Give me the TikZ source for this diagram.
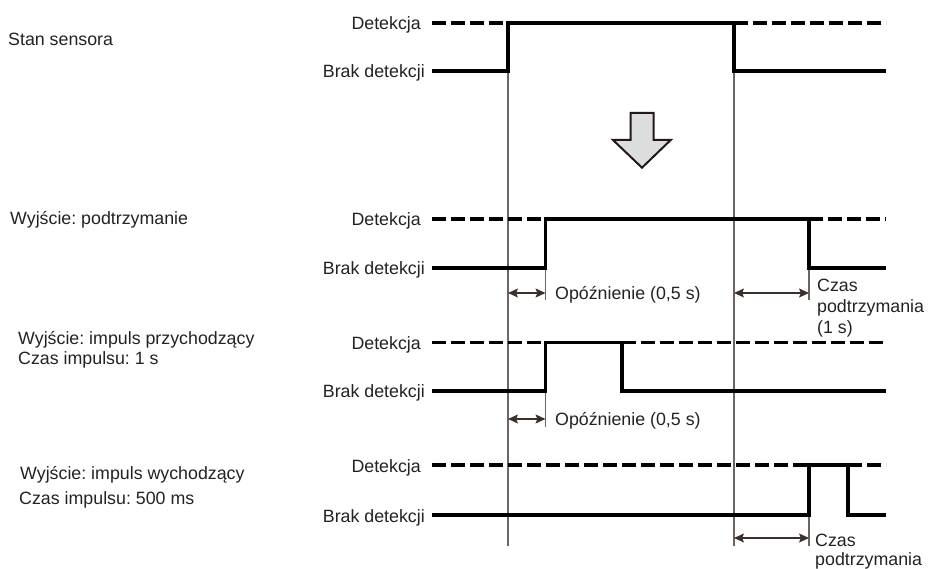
\documentclass[tikz,border=0pt]{standalone}
\usepackage{fontspec}
\setmainfont{Liberation Sans}
\frenchspacing
\usetikzlibrary{arrows.meta}
\definecolor{txt}{HTML}{222222}
\definecolor{guidec}{HTML}{6D6560}
\definecolor{dimc}{HTML}{3B2F2B}
\definecolor{arrfill}{HTML}{DCDDDD}
\definecolor{arrline}{HTML}{231815}
\tikzset{
  sig/.style={line width=3.6pt, draw=black, line cap=butt, line join=miter},
  dsh/.style={sig, dash pattern=on 14pt off 5pt},
  guide/.style={line width=1.1pt, draw=guidec},
  dimtip/.tip={Stealth[length=10pt,width=9pt,inset=2pt]},
  dimarrow/.style={line width=1.2pt, draw=dimc, {dimtip}-{dimtip}},
  lbl/.style={font=\fontsize{17.8}{21}\selectfont, text=txt, inner sep=0pt},
  bigarrow/.style={fill=arrfill, draw=arrline, line width=2pt, line join=miter}
}
\begin{document}
\begin{tikzpicture}[x=1pt,y=-1pt]
\useasboundingbox (0,0) rectangle (930,569);

% ---------- left titles ----------
\node[lbl, anchor=base west] (t1) at (8,46) {Stan sensora};
\node[lbl, anchor=base west] (t2) at (10,224.3) {Wyjście: podtrzymanie};
\node[lbl, anchor=base west] (t3a) at (18,345) {Wyjście: impuls przychodzący};
\node[lbl, anchor=base west] (t3b) at (18,364.3) {Czas impulsu: 1 s};
\node[lbl, anchor=base west] (t4a) at (20,479.3) {Wyjście: impuls wychodzący};
\node[lbl, anchor=base west] (t4b) at (19,504.3) {Czas impulsu: 500 ms};

% ---------- level labels ----------
\foreach \n/\hi/\lo in {1/23/71, 2/219/268, 3/342.7/391, 4/465/515}{
  \node[lbl, anchor=base east] (det\n) at (421,\hi+7) {Detekcja};
  \node[lbl, anchor=base east] (brak\n) at (425,\lo+7) {Brak detekcji};
}

% ---------- key coordinates ----------
\coordinate (xs) at (432,0);
\coordinate (xon) at (508,0);
\coordinate (xoff) at (734,0);
\coordinate (xdl) at (545.5,0);
\coordinate (xhold) at (809,0);
\coordinate (xp1) at (622,0);
\coordinate (xp2) at (848,0);
\coordinate (xe) at (886,0);

% ---------- guide lines ----------
\draw[guide] (xon |- 0,71) -- (xon |- 0,546);
\draw[guide] (xoff |- 0,71) -- (xoff |- 0,546);
\draw[guide] (xdl |- 0,250) -- (xdl |- 0,300);
\draw[guide] (xhold |- 0,250) -- (xhold |- 0,300);
\draw[guide] (xdl |- 0,373) -- (xdl |- 0,427);
\draw[guide] (xhold |- 0,490) -- (xhold |- 0,546);

% ---------- row 1: sensor ----------
\draw[dsh] (xs |- 0,23) -- (xon |- 0,23);
\draw[dsh] (xoff |- 0,23) -- (xe |- 0,23);
\draw[sig] (xs |- 0,71) -- (xon |- 0,71) -- (xon |- 0,23) -- (xoff |- 0,23)
  -- (xoff |- 0,71) -- (xe |- 0,71);

% big arrow
\draw[bigarrow] (630.7,113) -- (653.7,113) -- (653.7,140) -- (670.7,140)
  -- (642,167.7) -- (613,140) -- (630.7,140) -- cycle;

% ---------- row 2: hold ----------
\draw[dsh] (xs |- 0,219) -- (xdl |- 0,219);
\draw[dsh] (xhold |- 0,219) -- (xe |- 0,219);
\draw[sig] (xs |- 0,268) -- (xdl |- 0,268) -- (xdl |- 0,219) -- (xhold |- 0,219)
  -- (xhold |- 0,268) -- (xe |- 0,268);
\draw[dimarrow] (xon |- 0,293) -- (xdl |- 0,293);
\node[lbl, anchor=base west] (d2) at (555,299.5) {Opóźnienie (0,5 s)};
\draw[dimarrow] (xoff |- 0,293) -- (xhold |- 0,293);
\node[lbl, anchor=base west] (h2a) at (817,291.5) {Czas};
\node[lbl, anchor=base west] (h2b) at (817,313) {podtrzymania};
\node[lbl, anchor=base west] (h2c) at (817,334) {(1 s)};

% ---------- row 3: rising pulse ----------
\draw[dsh] (xs |- 0,342.7) -- (xdl |- 0,342.7);
\draw[dsh] (xp1 |- 0,342.7) -- (xe |- 0,342.7);
\draw[sig] (xs |- 0,391) -- (xdl |- 0,391) -- (xdl |- 0,342.7) -- (xp1 |- 0,342.7)
  -- (xp1 |- 0,391) -- (xe |- 0,391);
\draw[dimarrow] (xon |- 0,419) -- (xdl |- 0,419);
\node[lbl, anchor=base west] (d3) at (555,425.5) {Opóźnienie (0,5 s)};

% ---------- row 4: falling pulse ----------
\draw[dsh] (xs |- 0,465) -- (xhold |- 0,465);
\draw[dsh] (xp2 |- 0,465) -- (xe |- 0,465);
\draw[sig] (xs |- 0,515) -- (xhold |- 0,515) -- (xhold |- 0,465) -- (xp2 |- 0,465)
  -- (xp2 |- 0,515) -- (xe |- 0,515);
\draw[dimarrow] (xoff |- 0,538) -- (xhold |- 0,538);
\node[lbl, anchor=base west] (h4a) at (815,546) {Czas};
\node[lbl, anchor=base west] (h4b) at (815,565.5) {podtrzymania};
\end{tikzpicture}
\end{document}
